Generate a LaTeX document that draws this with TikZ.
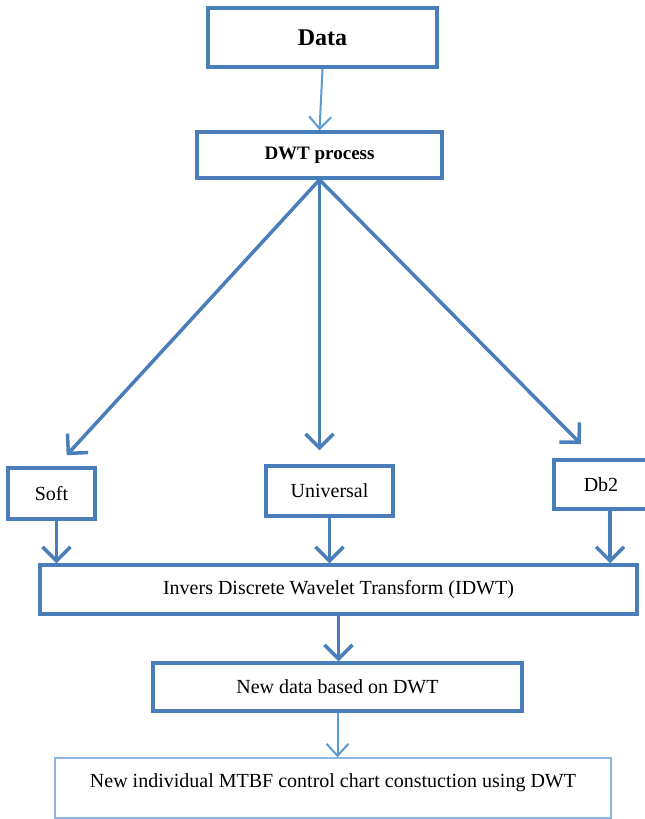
\documentclass[tikz,border=0pt]{standalone}
\usepackage{fontspec}
\setmainfont{Liberation Serif}
\usetikzlibrary{arrows.meta}
\definecolor{boxblue}{HTML}{4A7EBB}
\definecolor{lightblue}{HTML}{5B9BD5}
\definecolor{paleblue}{HTML}{8DB4E2}

\begin{document}
\begin{tikzpicture}[x=1pt,y=-1pt,
	box/.style={draw=boxblue, line width=3.5pt, fill=white, inner sep=0pt, font=\fontsize{20}{24}\selectfont},
	thickarrow/.style={draw=boxblue, line width=3.5pt, -{Straight Barb[length=14pt,width=28pt]}},
	thinarrow/.style={draw=lightblue, line width=2pt, -{Straight Barb[length=12pt,width=22pt]}}]
		\useasboundingbox (0,0) rectangle (645,819);
		
		%boxes
		\node[box, minimum width=229, minimum height=59, line width=4pt, font=\fontsize{24}{28}\selectfont\bfseries] (data) at (322.5,37.5) {Data};
		\node[box, minimum width=245, minimum height=46, font=\fontsize{19}{23}\selectfont\bfseries] (dwt) at (319.5,155) {DWT process};
		\node[box, minimum width=87, minimum height=51] (soft) at (51.5,493.5) {Soft};
		\node[box, minimum width=127, minimum height=50] (univ) at (329.5,491) {Universal};
		\node[box, minimum width=94, minimum height=49] (db2) at (601,484.5) {Db2};
		\node[box, minimum width=597, minimum height=49] (idwt) at (338.5,589.5) {Invers Discrete Wavelet Transform (IDWT)};
		\node[box, minimum width=369, minimum height=48] (newdata) at (337.5,687) {New data based on DWT};
		\node[box, draw=paleblue, line width=1.5pt, minimum width=556, text height=29pt, text depth=31pt] (chart) at (333,788) {New individual MTBF control chart constuction using DWT};
		
		%arrows
		\draw[thinarrow] (data.south) -- (dwt.north);
		\draw[thickarrow, shorten >=15pt] (dwt.south) -- ([xshift=5pt]soft.north);
		\draw[thickarrow, shorten >=14pt] (dwt.south) -- (dwt.south |- univ.north);
		\draw[thickarrow, shorten >=20pt] (dwt.south) -- ([xshift=-6pt]db2.north);
		\draw[thickarrow] ([xshift=5pt]soft.south) -- ([xshift=5pt]soft.south |- idwt.north);
		\draw[thickarrow] (univ.south) -- (univ.south |- idwt.north);
		\draw[thickarrow] ([xshift=9pt]db2.south) -- ([xshift=9pt]db2.south |- idwt.north);
		\draw[thickarrow] (idwt.south) -- (idwt.south |- newdata.north);
		\draw[thinarrow] (newdata.south) -- (newdata.south |- chart.north);
	
\end{tikzpicture}
\end{document}
